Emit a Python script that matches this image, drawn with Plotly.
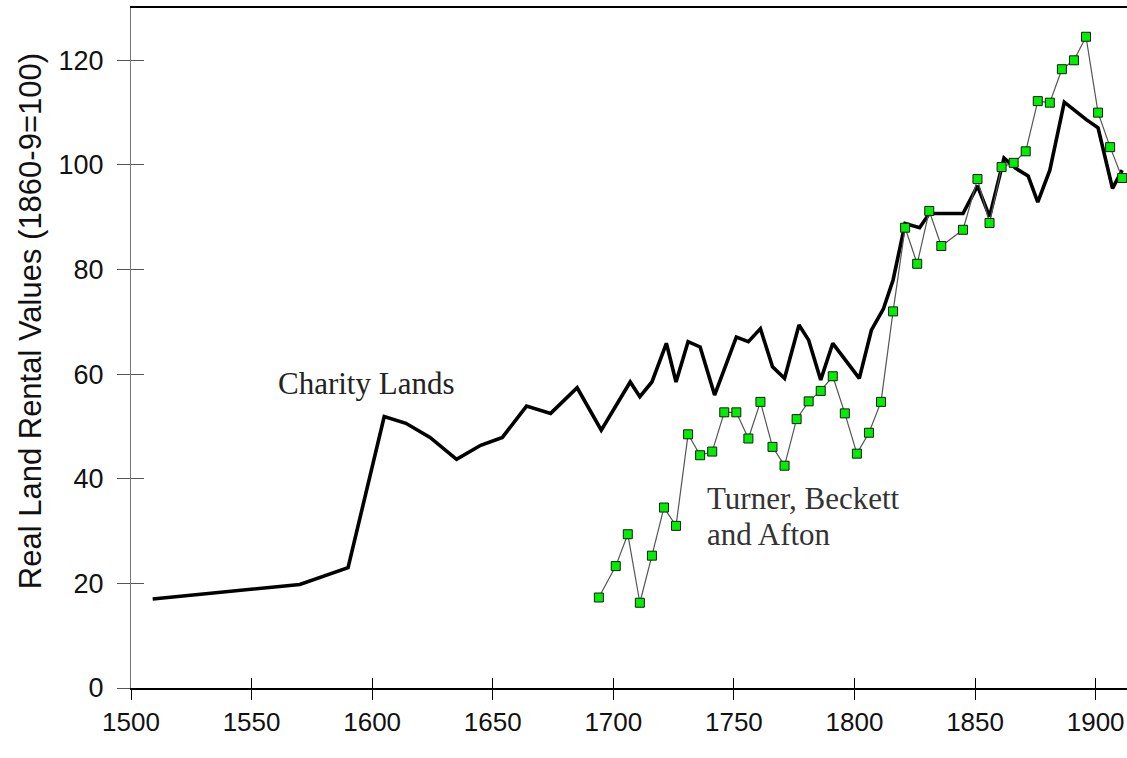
"""
plot.py — real land rental values, Charity Lands vs Turner, Beckett and Afton.
"""

import plotly.graph_objects as go

# ─────────────────────────────────────────────────────────────────────────────
# Data
# ─────────────────────────────────────────────────────────────────────────────

charity_years = [
    1509, 1570, 1590, 1605, 1614, 1624, 1635, 1645, 1654, 1664, 1674, 1685,
    1695, 1707, 1711, 1716, 1722, 1726, 1731, 1736, 1742, 1751, 1756, 1761,
    1766, 1771, 1777, 1781, 1786, 1791, 1802, 1807, 1812, 1816, 1821, 1827,
    1831, 1845, 1851, 1856, 1862, 1867, 1872, 1876, 1881, 1887, 1896, 1901,
    1907, 1911,
]
charity_values = [
    17.0, 19.8, 23.0, 51.9, 50.6, 47.9, 43.7, 46.4, 47.9, 53.9, 52.5, 57.4,
    49.3, 58.5, 55.7, 58.5, 65.9, 58.5, 66.2, 65.2, 56.0, 67.1, 66.2, 68.7,
    61.4, 59.2, 69.4, 66.5, 58.9, 65.9, 59.2, 68.4, 72.5, 78.0, 88.8, 88.0,
    90.7, 90.7, 96.0, 90.1, 101.3, 99.3, 97.9, 92.9, 99.0, 112.0, 108.7, 107.1,
    95.5, 99.0,
]

turner_years = [
    1694, 1701, 1706, 1711, 1716, 1721, 1726, 1731, 1736, 1741, 1746, 1751,
    1756, 1761, 1766, 1771, 1776, 1781, 1786, 1791, 1796, 1801, 1806, 1811,
    1816, 1821, 1826, 1831, 1836, 1845, 1851, 1856, 1861, 1866, 1871, 1876,
    1881, 1886, 1891, 1896, 1901, 1906, 1911,
]
turner_values = [
    17.3, 23.3, 29.4, 16.3, 25.3, 34.5, 31.0, 48.5, 44.5, 45.2, 52.7, 52.7,
    47.7, 54.7, 46.1, 42.5, 51.4, 54.8, 56.8, 59.6, 52.5, 44.8, 48.8, 54.7,
    72.0, 88.0, 81.1, 91.2, 84.5, 87.6, 97.3, 88.9, 99.6, 100.4, 102.6, 112.2,
    111.9, 118.3, 120.0, 124.5, 110.0, 103.4, 97.5,
]

x_ticks = [1500, 1550, 1600, 1650, 1700, 1750, 1800, 1850, 1900]
y_ticks = [0, 20, 40, 60, 80, 100, 120]

X_RANGE = [1500, 1913]
Y_RANGE = [0, 130]
SANS = "Liberation Sans, Arial, sans-serif"
SERIF = "Liberation Serif, Times New Roman, serif"


def rental_chart():
    """Line chart: two rental series, the second with square green markers."""
    fig = go.Figure()
    fig.add_trace(go.Scatter(
        x=charity_years,
        y=charity_values,
        mode="lines",
        line=dict(color="#000000", width=3.6),
        name="Charity Lands",
        hoverinfo="skip",
    ))
    # second series sits on the overlay axes, which also carry the inner ticks
    fig.add_trace(go.Scatter(
        x=turner_years,
        y=turner_values,
        xaxis="x2",
        yaxis="y2",
        mode="lines+markers",
        line=dict(color="#555555", width=1.2),
        marker=dict(symbol="square", size=9, color="#00ee00",
                    line=dict(color="#1a1a1a", width=1)),
        name="Turner, Beckett and Afton",
        hoverinfo="skip",
    ))

    fig.add_annotation(
        x=1560, y=58.2, text="Charity Lands", showarrow=False,
        xanchor="left", yanchor="middle",
        font=dict(family=SERIF, size=31, color="#222222"),
    )
    fig.add_annotation(
        x=1738, y=36.3, text="Turner, Beckett", showarrow=False,
        xanchor="left", yanchor="middle",
        font=dict(family=SERIF, size=31, color="#333333"),
    )
    fig.add_annotation(
        x=1738, y=29.4, text="and Afton", showarrow=False,
        xanchor="left", yanchor="middle",
        font=dict(family=SERIF, size=31, color="#333333"),
    )
    # vertical axis title, nudged up like the original
    fig.add_annotation(
        xref="paper", yref="paper", x=-0.101, y=0.54,
        text="Real Land Rental Values (1860-9=100)", showarrow=False,
        textangle=-90, xanchor="center", yanchor="middle",
        font=dict(family=SANS, size=31, color="#111111"),
    )

    fig.update_layout(
        width=1127,
        height=758,
        showlegend=False,
        plot_bgcolor="white",
        paper_bgcolor="white",
        margin=dict(l=131, r=0, t=8, b=70),
        xaxis=dict(
            range=X_RANGE, tickvals=x_ticks, showgrid=False, zeroline=False,
            automargin=False,
            showline=True, linecolor="#000000", linewidth=2, mirror=True,
            ticks="outside", ticklen=10, tickwidth=1, tickcolor="#000000",
            tickfont=dict(family=SANS, size=26, color="#111111"),
        ),
        xaxis2=dict(
            range=X_RANGE, tickvals=x_ticks, overlaying="x", anchor="y2",
            showgrid=False, zeroline=False, showline=False, automargin=False,
            ticks="inside", ticklen=10, tickwidth=1, tickcolor="#000000",
            showticklabels=False,
        ),
        yaxis=dict(
            range=Y_RANGE, tickvals=y_ticks, showgrid=False, zeroline=False,
            automargin=False,
            showline=True, linecolor="#777777", linewidth=1,
            ticks="outside", ticklen=13, tickwidth=1, tickcolor="#555555",
            ticklabelstandoff=8,
            tickfont=dict(family=SANS, size=27, color="#111111"),
        ),
        yaxis2=dict(
            range=Y_RANGE, tickvals=y_ticks, overlaying="y", anchor="x2",
            side="left", showgrid=False, zeroline=False, showline=False,
            automargin=False,
            ticks="inside", ticklen=13, tickwidth=1, tickcolor="#555555",
            showticklabels=False,
        ),
    )
    return fig


fig = rental_chart()
# drop the default page margin so the figure sits at the window's corner
fig.write_html(
    "out.html",
    config={"displayModeBar": False},
    post_script="document.body.style.margin = '0px';",
)
